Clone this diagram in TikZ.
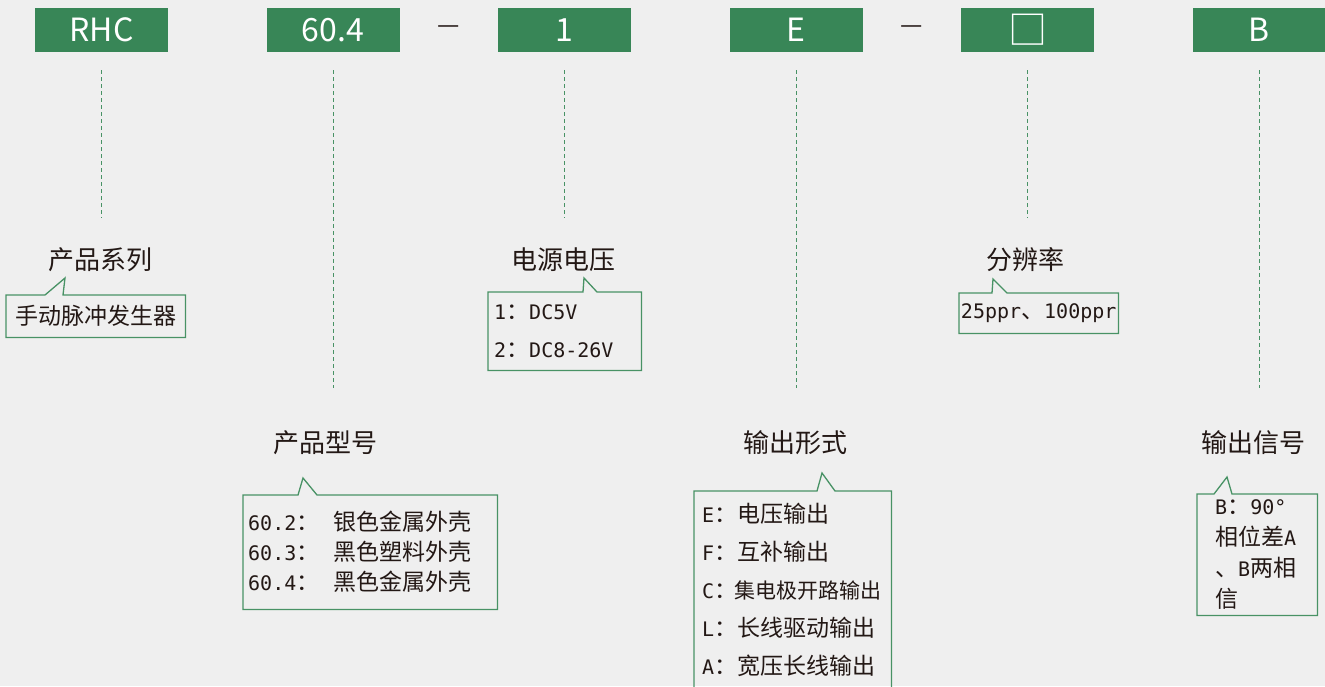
\documentclass[tikz,border=0pt]{standalone}
\usepackage{fontspec}
\setmainfont{Noto Sans CJK SC}
\newfontfamily\latmono{DejaVu Sans Mono}
\usepackage{tikz}
\usetikzlibrary{positioning,calc}
\definecolor{codegreen}{RGB}{56,134,87}
\definecolor{framegreen}{RGB}{72,146,101}
\definecolor{inkdark}{RGB}{35,24,21}
\definecolor{paper}{RGB}{239,239,239}
\newcommand{\mn}[1]{{\latmono\fontsize{20}{20}\selectfont #1}}
% box outline with a pointer: node, pointer start, tip, pointer end
\newcommand{\pointerframe}[4]{%
  \draw[framegreen, line width=1.3pt] (#1.north west) -- ($(#1.north west)+(#2,0)$)
    -- ($(#1.north west)+#3$) -- ($(#1.north west)+(#4,0)$) -- (#1.north east)
    -- (#1.south east) -- (#1.south west) -- cycle;}

\begin{document}
\begin{tikzpicture}[x=1pt, y=-1pt, node distance=231.5pt,
  codebox/.style={fill=codegreen, text=white, minimum width=133pt,
    minimum height=44pt, inner sep=0pt, font=\fontsize{32}{32}\selectfont},
  dashsep/.style={text=inkdark, inner sep=0pt, font=\fontsize{25}{25}\selectfont},
  guide/.style={draw=framegreen, line width=1pt, dash pattern=on 4pt off 3pt},
  heading/.style={text=inkdark, inner sep=0pt, font=\fontsize{26}{26}\selectfont},
  callbox/.style={anchor=north west, align=left, inner ysep=0pt, text=inkdark}]
  \fill[paper] (0,0) rectangle (1325,686);
  \useasboundingbox (0,0) rectangle (1325,686);

  % code segments
  \node (rhc) [codebox] at (101.5,30) {RHC};
  \node (model) [codebox, right of=rhc] {60.4};
  \node (volt) [codebox, right of=model] {1};
  \node (out) [codebox, right of=volt] {E};
  \node (res) [codebox, right of=out, font=\fontsize{39}{39}\selectfont] {□};
  \node (sig) [codebox, right of=res] {B};
  \node (dashA) [dashsep] at ($(model)!0.5!(volt)$) {—};
  \node (dashB) [dashsep] at ($(out)!0.5!(res)$) {—};

  % headings
  \node (family) [heading] at (100.5,260) {产品系列};
  \node (modelh) [heading] at (325,443) {产品型号};
  \node (volth) [heading] at (563.5,260) {电源电压};
  \node (outh) [heading] at (795,443) {输出形式};
  \node (resh) [heading] at (1025.5,260) {分辨率};
  \node (sigh) [heading] at (1253.5,443) {输出信号};

  \draw[guide] ($(rhc.south)+(0,18)$) -- ($(rhc.south |- family.center)+(0,-42)$);
  \draw[guide] ($(model.south)+(0,18)$) -- ($(model.south |- modelh.center)+(0,-55)$);
  \draw[guide] ($(volt.south)+(0,18)$) -- ($(volt.south |- volth.center)+(0,-42)$);
  \draw[guide] ($(out.south)+(0,18)$) -- ($(out.south |- outh.center)+(0,-55)$);
  \draw[guide] ($(res.south)+(0,18)$) -- ($(res.south |- resh.center)+(0,-42)$);
  \draw[guide] ($(sig.south)+(0,18)$) -- ($(sig.south |- sigh.center)+(0,-55)$);

  % option lists
  \node (famlist) [callbox, minimum width=179pt, minimum height=42pt, inner xsep=0pt,
    align=center, font=\fontsize{23}{23}\selectfont] at (6,295) {手动脉冲发生器};
  \node (voltlist) [callbox, minimum height=78pt, text width=141pt, inner xsep=6pt,
    font=\fontsize{23}{38}\selectfont] at (488,292)
    {\mn{1}：\mn{DC5V}\\\mn{2}：\mn{DC8-26V}};
  \node (reslist) [callbox, minimum width=159pt, minimum height=40pt, inner xsep=0pt,
    align=center, font=\fontsize{23}{23}\selectfont] at (959,293)
    {\mn{25ppr}、\mn{100ppr}};
  \node (modellist) [callbox, minimum height=114pt, text width=244pt, inner xsep=5pt,
    font=\fontsize{23}{30}\selectfont] at (243,495)
    {\mn{60.2}：\hspace{14pt}银色金属外壳\\\mn{60.3}：\hspace{14pt}黑色塑料外壳\\
     \mn{60.4}：\hspace{14pt}黑色金属外壳};
  \node (outlist) [callbox, minimum height=197pt, text width=181pt, inner xsep=8pt,
    font=\fontsize{23}{38}\selectfont] at (694,491)
    {\mn{E}：电压输出\\\mn{F}：互补输出\\
     \mn{C}：\hspace{-3pt}{\fontsize{21}{38}\selectfont 集电极开路输出}\\
     \mn{L}：长线驱动输出\\\mn{A}：宽压长线输出};
  \node (siglist) [callbox, minimum height=121pt, text width=84pt, inner xsep=18pt,
    font=\fontsize{23}{31}\selectfont] at (1197,494)
    {\mn{B}：\mn{90°}\\相位差\mn{A}\\、\mn{B}两相\\信};

  \pointerframe{famlist}{39}{(59,-17)}{57}
  \pointerframe{voltlist}{95}{(96,-14)}{109}
  \pointerframe{reslist}{33}{(34,-14)}{48}
  \pointerframe{modellist}{55}{(60,-17)}{74}
  \pointerframe{outlist}{123}{(128,-18)}{141}
  \pointerframe{siglist}{17}{(30,-17)}{35}
\end{tikzpicture}
\end{document}
